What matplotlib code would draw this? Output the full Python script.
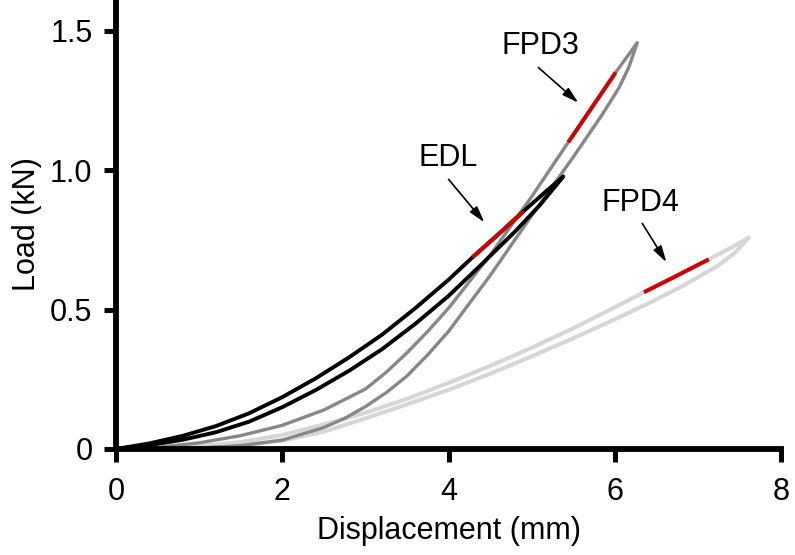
import numpy as np
import matplotlib
matplotlib.use("Agg")
import matplotlib.pyplot as plt

plt.rcParams['font.family'] = ['Liberation Sans', 'DejaVu Sans']

# load-displacement loops, upper (loading) and lower (unloading) branches
edl_up_x = [0, 0.4, 0.8, 1.2, 1.6, 2.0, 2.4, 2.8, 3.2, 3.6, 4.0, 4.29, 4.6, 4.9, 5.15, 5.38]
edl_up_y = [0, 0.02, 0.047, 0.082, 0.128, 0.186, 0.253, 0.328, 0.41, 0.505, 0.607, 0.688, 0.77, 0.852, 0.918, 0.977]
edl_lo_x = [0, 0.4, 0.8, 1.2, 1.6, 2.0, 2.4, 2.8, 3.2, 3.6, 4.0, 4.4, 4.8, 5.1, 5.38]
edl_lo_y = [0, 0.014, 0.033, 0.06, 0.098, 0.15, 0.211, 0.28, 0.358, 0.449, 0.549, 0.663, 0.78, 0.875, 0.977]

fpd3_up_x = [0, 0.5, 1.0, 1.5, 2.0, 2.5, 3.0, 3.25, 3.5, 3.75, 4.0, 4.5, 5.0, 5.44, 6.01, 6.27]
fpd3_up_y = [0, 0.006, 0.022, 0.048, 0.085, 0.14, 0.215, 0.275, 0.345, 0.422, 0.505, 0.695, 0.905, 1.10, 1.35, 1.457]
fpd3_lo_x = [0, 1.0, 1.5, 2.0, 2.5, 2.75, 3.0, 3.25, 3.5, 3.75, 4.0, 4.5, 5.0, 5.5, 5.85, 6.05, 6.17, 6.27]
fpd3_lo_y = [0, 0.004, 0.012, 0.032, 0.077, 0.11, 0.152, 0.202, 0.262, 0.338, 0.422, 0.622, 0.837, 1.047, 1.2, 1.295, 1.37, 1.457]

fpd4_up_x = [0, 0.5, 1.0, 1.5, 2.0, 2.5, 3.0, 3.5, 4.0, 4.5, 5.0, 5.5, 6.0, 6.35, 6.75, 7.13, 7.4, 7.61]
fpd4_up_y = [0, 0.0025, 0.01, 0.025, 0.05, 0.088, 0.13, 0.18, 0.237, 0.298, 0.363, 0.433, 0.508, 0.562, 0.622, 0.68, 0.722, 0.758]
fpd4_lo_x = [0, 1.0, 1.5, 2.0, 2.5, 3.0, 3.5, 4.0, 4.5, 5.0, 5.5, 6.0, 6.43, 6.8, 7.24, 7.45, 7.61]
fpd4_lo_y = [0, 0.004, 0.012, 0.03, 0.062, 0.11, 0.16, 0.212, 0.27, 0.332, 0.397, 0.465, 0.526, 0.582, 0.657, 0.705, 0.758]

# red stiffness segments
edl_red_x = [4.29, 4.6, 4.9]
edl_red_y = [0.688, 0.77, 0.852]
fpd3_red_x = [5.44, 6.01]
fpd3_red_y = [1.10, 1.35]
fpd4_red_x = [6.35, 6.75, 7.13]
fpd4_red_y = [0.562, 0.622, 0.68]

fig = plt.figure(figsize=(7.95, 5.55), dpi=100)
ax = fig.add_axes([0.146, 0.191, 0.8365, 0.809])

def loop(xu, yu, xl, yl, color, lw):
    x = list(xu) + list(xl[::-1])
    y = list(yu) + list(yl[::-1])
    ax.plot(x, y, color=color, lw=lw, solid_capstyle='round', solid_joinstyle='round')

loop(fpd4_up_x, fpd4_up_y, fpd4_lo_x, fpd4_lo_y, '#d6d6d6', 2.9)
loop(fpd3_up_x, fpd3_up_y, fpd3_lo_x, fpd3_lo_y, '#878787', 2.4)
loop(edl_up_x, edl_up_y, edl_lo_x, edl_lo_y, 'black', 2.8)

for rx, ry in [(edl_red_x, edl_red_y), (fpd3_red_x, fpd3_red_y), (fpd4_red_x, fpd4_red_y)]:
    ax.plot(rx, ry, color='#d40000', lw=2.9, solid_capstyle='butt')

arrow = dict(arrowstyle='-|>,head_length=0.7,head_width=0.2', color='black', lw=1.2,
             mutation_scale=14, shrinkA=0, shrinkB=0)
ax.text(5.11, 1.445, 'FPD3', fontsize=22, ha='center', va='center')
ax.annotate('', xy=(5.56, 1.242), xytext=(5.08, 1.368), arrowprops=arrow)
ax.text(4.0, 1.045, 'EDL', fontsize=22, ha='center', va='center')
ax.annotate('', xy=(4.43, 0.813), xytext=(4.00, 0.967), arrowprops=arrow)
ax.text(6.31, 0.881, 'FPD4', fontsize=22, ha='center', va='center')
ax.annotate('', xy=(6.62, 0.670), xytext=(6.33, 0.809), arrowprops=arrow)

ax.set_xlim(0, 8)
ax.set_ylim(0, 1.61)
ax.set_xticks([0, 2, 4, 6, 8])
ax.set_yticks([0, 0.5, 1.0, 1.5])
ax.set_yticklabels(['0', '0.5', '1.0', '1.5'])
ax.spines['top'].set_visible(False)
ax.spines['right'].set_visible(False)
for s in ['left', 'bottom']:
    ax.spines[s].set_linewidth(4.2)
ax.tick_params(width=3.6, length=9, labelsize=22)
ax.tick_params(axis='y', pad=8)
ax.tick_params(axis='x', pad=11)
ax.set_xlabel('Displacement (mm)', fontsize=22, labelpad=7)
ax.set_ylabel('Load (kN)', fontsize=22, labelpad=6)

fig.savefig('out.png', dpi=100)
